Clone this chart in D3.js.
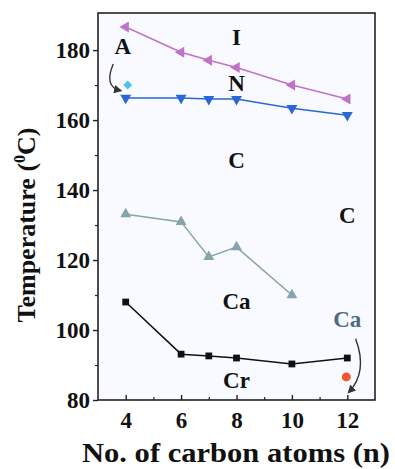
<!DOCTYPE html>
<html>
<head>
<meta charset="utf-8">
<script src="https://cdn.jsdelivr.net/npm/d3@7"></script>
<style>
  body { margin: 0; background: #fff; }
  text { font-family: "Liberation Serif", "Times New Roman", serif; font-weight: bold; }
</style>
</head>
<body>
<div id="plot"></div>
<script>
// carbon atom counts and transition temperatures
const nIso    = [4, 6, 7, 8, 10, 12];
const tIso    = [186.6, 179.4, 177.1, 175.0, 170.0, 166.0];
const nNem    = [4, 6, 7, 8, 10, 12];
const tNem    = [166.3, 166.3, 166.0, 166.0, 163.4, 161.4];
const nCa     = [4, 6, 7, 8, 10];
const tCa     = [133.1, 130.9, 120.9, 123.7, 110.0];
const nCr     = [4, 6, 7, 8, 10, 12];
const tCr     = [108.0, 93.1, 92.6, 92.0, 90.3, 92.0];
const extraA  = { n: 4, t: 170.0 };   // cyan diamond
const extraCa = { n: 12, t: 86.6 };   // red dot
const xTicks  = [4, 6, 8, 10, 12];
const yTicks  = [80, 100, 120, 140, 160, 180];

window.addEventListener('load', main);

function main(){
  let [W, H] = [395, 469];
  let m = {left: 98, right: 20, top: 13, bottom: 69};
  let svg = d3.select('#plot').append('svg').attr('width', W).attr('height', H);

  let x = d3.scaleLinear().domain([3, 13]).range([m.left, W - m.right]);
  let y = d3.scaleLinear().domain([80, 190.6]).range([H - m.bottom, m.top]);

  svg.append('defs').append('marker')
     .attr('id', 'arr').attr('viewBox', '0 0 10 10').attr('refX', 8).attr('refY', 5)
     .attr('markerWidth', 6).attr('markerHeight', 6).attr('orient', 'auto')
     .append('path').attr('d', 'M0,0L10,5L0,10z').attr('fill', '#333');

  // plot background + frame
  svg.append('rect').attr('x', m.left).attr('y', m.top)
     .attr('width', W - m.right - m.left).attr('height', H - m.bottom - m.top)
     .attr('fill', '#f9faff').attr('stroke', '#222').attr('stroke-width', 1.6);

  // y axis: ticks outward
  let yAxis = d3.axisLeft(y).tickValues(yTicks).tickSize(5).tickPadding(3);
  let gy = svg.append('g').attr('transform', `translate(${m.left},0)`).call(yAxis);
  gy.select('.domain').remove();
  gy.selectAll('text').attr('font-size', 23).attr('fill', '#111');
  gy.selectAll('line').attr('stroke', '#222').attr('stroke-width', 1.4);
  svg.append('g').attr('transform', `translate(${m.left},0)`)
     .call(d3.axisLeft(y).tickValues([90, 110, 130, 150, 170]).tickSize(3).tickFormat(''))
     .call(g => g.select('.domain').remove())
     .selectAll('line').attr('stroke', '#222').attr('stroke-width', 1.2);

  // x axis: ticks inward
  let gx = svg.append('g').attr('transform', `translate(0,${H - m.bottom})`)
     .call(d3.axisBottom(x).tickValues(xTicks).tickSizeInner(-5).tickSizeOuter(0).tickPadding(12));
  gx.select('.domain').remove();
  gx.selectAll('text').attr('font-size', 23).attr('fill', '#111');
  gx.selectAll('line').attr('stroke', '#222').attr('stroke-width', 1.4);
  svg.append('g').attr('transform', `translate(0,${H - m.bottom})`)
     .call(d3.axisBottom(x).tickValues([5, 7, 9, 11]).tickSizeInner(-3).tickSizeOuter(0).tickFormat(''))
     .call(g => g.select('.domain').remove())
     .selectAll('line').attr('stroke', '#222').attr('stroke-width', 1.2);

  // axis titles
  svg.append('text').attr('x', 236).attr('y', 462)
     .attr('text-anchor', 'middle').attr('font-size', 28).attr('fill', '#111')
     .attr('textLength', 308).attr('lengthAdjust', 'spacingAndGlyphs')
     .text('No. of carbon atoms (n)');
  let yt = svg.append('text').attr('transform', `translate(35,${225}) rotate(-90)`)
     .attr('text-anchor', 'middle').attr('font-size', 26).attr('fill', '#111');
  yt.append('tspan').text('Temperature (');
  yt.append('tspan').attr('font-size', 16).attr('dy', -10).text('0');
  yt.append('tspan').attr('dy', 10).text('C)');

  let line = d3.line().x(d => x(d[0])).y(d => y(d[1]));
  let series = [
    {n: nIso, t: tIso, color: '#c072c4', sym: 'left'},
    {n: nNem, t: tNem, color: '#2a66d4', sym: 'down'},
    {n: nCa,  t: tCa,  color: '#86a4ac', sym: 'up'},
    {n: nCr,  t: tCr,  color: '#111111', sym: 'square'}
  ];
  let tri = d3.symbol().type(d3.symbolTriangle).size(52);
  let sq = d3.symbol().type(d3.symbolSquare).size(46);
  series.forEach(s => {
    let pts = s.n.map((v, i) => [v, s.t[i]]);
    svg.append('path').attr('d', line(pts)).attr('fill', 'none')
       .attr('stroke', s.color).attr('stroke-width', 1.5);
    let rot = s.sym === 'left' ? -90 : s.sym === 'down' ? 180 : 0;
    svg.append('g').selectAll('path').data(pts).join('path')
       .attr('d', s.sym === 'square' ? sq() : tri())
       .attr('transform', d => `translate(${x(d[0])},${y(d[1])}) rotate(${rot})`)
       .attr('fill', s.color);
  });

  svg.append('path').attr('d', d3.symbol().type(d3.symbolSquare).size(40)())
     .attr('transform', `translate(${x(extraA.n) + 2},${y(extraA.t)}) rotate(45)`).attr('fill', '#4cc4e4');
  svg.append('circle').attr('cx', x(extraCa.n) - 1).attr('cy', y(extraCa.t)).attr('r', 4.5)
     .attr('fill', '#f25530');

  // phase labels
  let labels = [
    {txt: 'I',  n: 8,   t: 181.5, c: '#111'},
    {txt: 'A',  n: 3.9, t: 179.0, c: '#111'},
    {txt: 'N',  n: 8,   t: 168.3, c: '#111'},
    {txt: 'C',  n: 8,   t: 146.3, c: '#111'},
    {txt: 'C',  n: 12,  t: 130.5, c: '#111'},
    {txt: 'Ca', n: 8,   t: 106.0, c: '#111'},
    {txt: 'Ca', n: 12,  t: 101.0, c: '#4c6b80'},
    {txt: 'Cr', n: 8,   t: 83.5,  c: '#111'}
  ];
  svg.append('g').selectAll('text').data(labels).join('text')
     .attr('x', d => x(d.n)).attr('y', d => y(d.t))
     .attr('text-anchor', 'middle').attr('font-size', 23).attr('fill', d => d.c)
     .text(d => d.txt);

  // curved arrows
  svg.append('path')
     .attr('d', `M${x(3.55)},${y(176)} Q${x(3.2)},${y(169.5)} ${x(3.82)},${y(168.4)}`)
     .attr('fill', 'none').attr('stroke', '#333').attr('stroke-width', 1.4).attr('marker-end', 'url(#arr)');
  svg.append('path')
     .attr('d', `M${x(12.3)},${y(97.5)} Q${x(12.75)},${y(88)} ${x(12.05)},${y(82.2)}`)
     .attr('fill', 'none').attr('stroke', '#333').attr('stroke-width', 1.4).attr('marker-end', 'url(#arr)');
}
</script>
</body>
</html>
